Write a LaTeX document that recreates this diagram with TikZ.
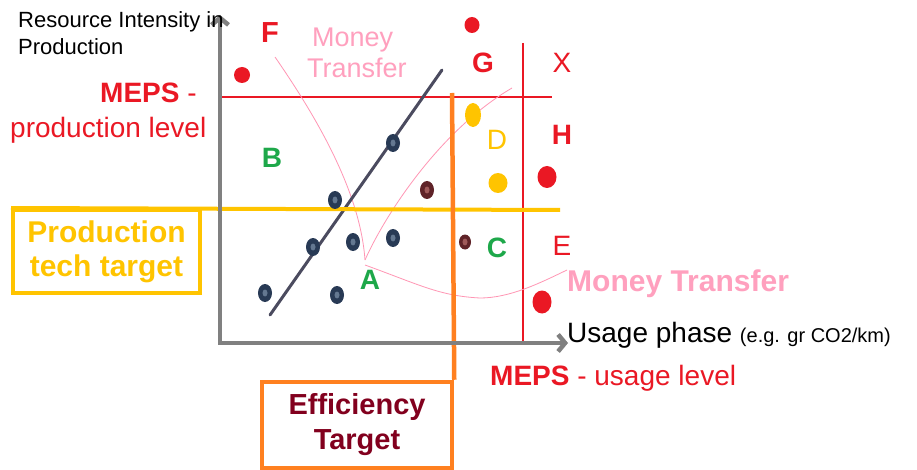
\documentclass[tikz,border=0pt]{standalone}
\usepackage{fontspec}
\setmainfont{Liberation Sans}
\usetikzlibrary{arrows.meta,shapes.geometric}
\definecolor{mred}{RGB}{234,24,36}
\definecolor{myellow}{RGB}{255,196,0}
\definecolor{morange}{RGB}{255,128,32}
\definecolor{mgreen}{RGB}{30,168,74}
\definecolor{mpink}{RGB}{255,160,190}
\definecolor{mpinkline}{RGB}{255,150,180}
\definecolor{mdarkred}{RGB}{130,0,30}
\definecolor{maxis}{RGB}{128,128,128}
\definecolor{mreg}{RGB}{75,75,95}
\definecolor{dotring}{RGB}{40,58,85}
\definecolor{dotfill}{RGB}{100,120,145}
\definecolor{brring}{RGB}{95,35,40}
\definecolor{brfill}{RGB}{160,90,90}
\tikzset{
  txt/.style={inner sep=0pt, anchor=base west},
  letter/.style={inner sep=0pt, font=\fontsize{28}{30}\selectfont},
  bdot/.style={ellipse, fill=dotring, minimum width=14pt, minimum height=18pt, inner sep=0pt,
     path picture={\fill[dotfill] (path picture bounding box.center) ellipse (2.5pt and 3.5pt);}},
  brdot/.style={ellipse, fill=brring, minimum width=14pt, minimum height=18pt, inner sep=0pt,
     path picture={\fill[brfill] (path picture bounding box.center) ellipse (2.5pt and 3.5pt);}},
  rdot/.style={ellipse, fill=mred, inner sep=0pt},
  ydot/.style={ellipse, fill=myellow, inner sep=0pt},
  axisline/.style={draw=maxis, line width=4.5pt, {Straight Barb[length=7pt,width=17pt]}-{Straight Barb[length=7pt,width=17pt]}},
  pinkcurve/.style={draw=mpinkline, line width=0.8pt},
  mepsline/.style={draw=mred, line width=1.5pt},
}
\begin{document}
\begin{tikzpicture}[x=1pt,y=-1pt]
\useasboundingbox[fill=white] (0,0) rectangle (917,470);

% axes
\coordinate (ytop) at (220,15);
\coordinate (origin) at (220,343);
\coordinate (xend) at (568,343);

% MEPS lines
\coordinate (mp1) at (222,97);
\coordinate (mp2) at (552,97);
\coordinate (mu1) at (523,43);
\coordinate (mu2) at (523,343);
\draw[mepsline] (mp1) -- (mp2);
\draw[mepsline] (mu1) -- (mu2);

% pink curves
\coordinate (fstart) at (275,57);
\coordinate (apex) at (365,260);
\coordinate (apex2) at (365,265);
\coordinate (dend) at (512,88);
\coordinate (mtend) at (567,270);
\draw[pinkcurve] (fstart) .. controls (315,115) and (360,190) .. (apex);
\draw[pinkcurve] (apex) .. controls (385,215) and (440,130) .. (dend);
\draw[pinkcurve] (apex2) .. controls (420,285) and (440,296) .. (480,298) .. controls (510,298) and (540,283) .. (mtend);

% regression line
\coordinate (r1) at (270,315);
\coordinate (r2) at (442,70);
\draw[draw=mreg, line width=3pt, line cap=round] (r1) -- (r2);

% boxes
\node[draw=myellow, line width=4pt, minimum width=187pt, minimum height=83pt, inner sep=0pt,
      text=myellow, align=center, font=\bfseries\fontsize{30}{34}\selectfont] (ptt) at (106.5,251.5) {Production\\tech target};
\coordinate (yend) at (560,210);
\draw[draw=myellow, line width=4pt] (ptt.north west) -- (yend);

\node[draw=morange, line width=4.5pt, minimum width=190pt, minimum height=86pt, inner sep=0pt,
      text=mdarkred, align=center, font=\bfseries\fontsize{29}{35}\selectfont] (eff) at (357,425) {Efficiency\\Target};
\coordinate (otop) at (452,93);
\draw[draw=morange, line width=4.5pt] (otop) -- (eff.north east);

\draw[axisline] (ytop) -- (origin) -- (xend);

% dots
\node[bdot] (d1) at (265,293) {};
\node[bdot] (d2) at (337,295) {};
\node[bdot] (d3) at (313,247) {};
\node[bdot] (d4) at (353,242) {};
\node[bdot] (d5) at (393,238) {};
\node[bdot] (d6) at (335,200) {};
\node[bdot] (d7) at (393,143) {};
\node[brdot] (br1) at (427,190) {};
\node[brdot, minimum width=12pt, minimum height=15pt] (br2) at (465,242) {};
\node[ydot, minimum width=16pt, minimum height=24pt] (y1) at (473,115) {};
\node[ydot, minimum width=19pt, minimum height=20pt] (y2) at (498,183) {};
\node[rdot, minimum width=16pt, minimum height=16pt] (rd1) at (242,75) {};
\node[rdot, minimum width=15pt, minimum height=16pt] (rd2) at (472,25) {};
\node[rdot, minimum width=19pt, minimum height=22pt] (rd3) at (547,177) {};
\node[rdot, minimum width=19pt, minimum height=23pt] (rd4) at (542,302) {};

% letters
\node[letter, text=mred, font=\bfseries\fontsize{29}{30}\selectfont] (lF) at (270,33) {F};
\node[letter, text=mred, font=\bfseries\fontsize{28}{30}\selectfont] (lG) at (483,63) {G};
\node[letter, text=mred] (lX) at (562,63) {X};
\node[letter, text=mred, font=\bfseries\fontsize{28}{30}\selectfont] (lH) at (562,135) {H};
\node[letter, text=myellow] (lD) at (497,140) {D};
\node[letter, text=mgreen, font=\bfseries\fontsize{28}{30}\selectfont] (lB) at (272,158) {B};
\node[letter, text=mgreen, font=\bfseries\fontsize{28}{30}\selectfont] (lC) at (497,248) {C};
\node[letter, text=mred] (lE) at (562,246) {E};
\node[letter, text=mgreen, font=\bfseries\fontsize{28}{30}\selectfont] (lA) at (370,280) {A};

% texts
\node[txt, font=\fontsize{22}{24}\selectfont] (rt1) at (18,28) {Resource Intensity in};
\node[txt, font=\fontsize{22}{24}\selectfont] (rt2) at (18,55) {Production};
\node[txt, text=mred, font=\fontsize{28}{30}\selectfont] (mp) at (100,103) {\textbf{MEPS} -};
\node[txt, text=mred, font=\fontsize{28}{30}\selectfont] (mpl) at (10,138) {production level};
\node[txt, text=mpink, font=\fontsize{27}{30}\selectfont] (mt1) at (312,47) {Money};
\node[txt, text=mpink, font=\fontsize{27}{30}\selectfont] (mt2) at (307,78) {Transfer};
\node[txt, text=mpink, font=\bfseries\fontsize{30}{32}\selectfont] (mt3) at (567,291) {Money Transfer};
\node[txt, font=\fontsize{28}{30}\selectfont] (up) at (567,342) {Usage phase {\fontsize{20}{22}\selectfont (e.g. gr CO2/km)}};
\node[txt, text=mred, font=\fontsize{28}{30}\selectfont] (mu) at (490,385) {\textbf{MEPS} - usage level};
\end{tikzpicture}
\end{document}
